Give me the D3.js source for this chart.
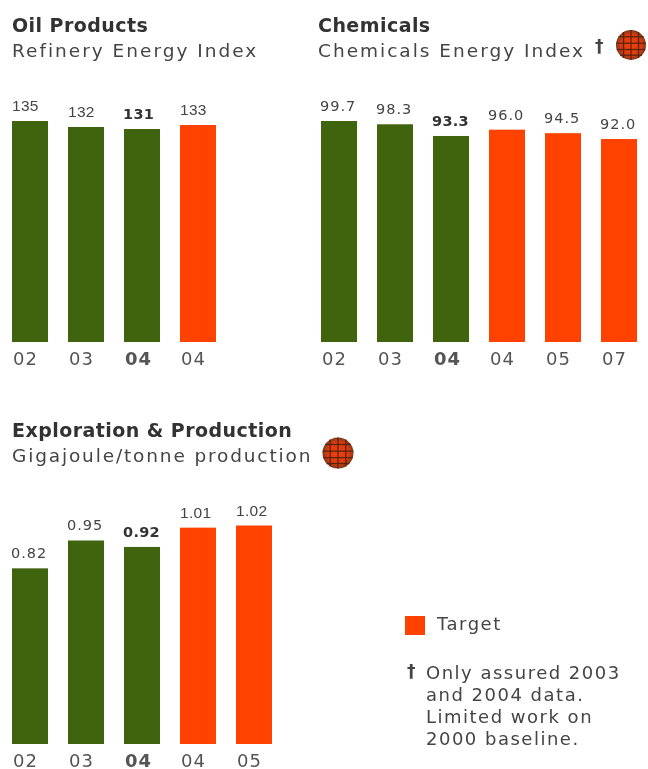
<!DOCTYPE html>
<html>
<head>
<meta charset="utf-8">
<script src="https://cdn.jsdelivr.net/npm/d3@7"></script>
<style>
  html, body { margin: 0; padding: 0; background: #fff; }
  svg { display: block; }
  text { font-family: "DejaVu Sans", Verdana, sans-serif; fill: #444; }
  .title { font-size: 19px; font-weight: bold; letter-spacing: 0.45px; fill: #333; }
  .sub { font-size: 18.5px; letter-spacing: 2px; fill: #444; }
  .sub.tight { letter-spacing: 1.85px; }
  .val { font-size: 14.5px; letter-spacing: 1px; }
  .val.now { font-weight: bold; letter-spacing: 0.3px; fill: #333; }
  .val.narrow { font-family: "Liberation Sans", Arial, sans-serif; font-size: 15.5px; letter-spacing: 0.3px; }
  .tick text { font-size: 18px; letter-spacing: 1px; fill: #555; }
  .note { font-size: 18px; letter-spacing: 1.5px; fill: #444; }
  .dagger { font-size: 17px; font-weight: bold; letter-spacing: 0; fill: #444; }
</style>
</head>
<body>
<svg id="chart" width="648" height="769"></svg>
<script>
var green = '#41630f', orange = '#ff4206';

// 'a' actual, 'n' the bold current year, 't' target
var oilYears = ['02', '03', '04', '04'];
var oilValues = [135, 132, 131, 133];
var oilLabels = ['135', '132', '131', '133'];
var oilKinds = ['a', 'a', 'n', 't'];

var chemYears = ['02', '03', '04', '04', '05', '07'];
var chemValues = [99.7, 98.3, 93.3, 96.0, 94.5, 92.0];
var chemLabels = ['99.7', '98.3', '93.3', '96.0', '94.5', '92.0'];
var chemKinds = ['a', 'a', 'n', 't', 't', 't'];

var epYears = ['02', '03', '04', '04', '05'];
var epValues = [0.82, 0.95, 0.92, 1.01, 1.02];
var epLabels = ['0.82', '0.95', '0.92', '1.01', '1.02'];
var epKinds = ['a', 'a', 'n', 't', 't'];

var noteLines = ['Only assured 2003', 'and 2004 data.', 'Limited work on', '2000 baseline.'];

var svg = d3.select('#chart');

// the source is a slightly soft upscaled image
var defs = svg.append('defs');
defs.append('filter').attr('id', 'soft')
    .append('feGaussianBlur').attr('stdDeviation', 0.45);
var grad = defs.append('radialGradient').attr('id', 'globe-fill');
grad.append('stop').attr('offset', '0%').attr('stop-color', '#f0420a');
grad.append('stop').attr('offset', '72%').attr('stop-color', '#dc3a08');
grad.append('stop').attr('offset', '100%').attr('stop-color', '#7a3a24');

var root = svg.append('g').attr('filter', 'url(#soft)');

function is_narrow(opt, i)
{
  return opt.kinds[i] != 'n' && opt.narrow.indexOf(i) >= 0;
}

function val_class(opt, i)
{
  var cls = 'val';
  if (opt.kinds[i] == 'n') cls += ' now';
  else if (is_narrow(opt, i)) cls += ' narrow';
  return cls;
}

function draw_panel(opt)
{
  var n = opt.years.length;
  var g = root.append('g');

  var x = d3.scaleBand()
            .domain(d3.range(n))
            .range([opt.left, opt.left + 56 * n - 20])
            .paddingInner(20 / 56)
            .paddingOuter(0);
  var y = d3.scaleLinear().domain(opt.domain).range([opt.bottom, opt.top]);

  g.selectAll('rect')
   .data(opt.values)
   .enter()
   .append('rect')
   .attr('x', (d, i) => x(i))
   .attr('y', d => y(d))
   .attr('width', x.bandwidth())
   .attr('height', d => opt.bottom - y(d))
   .attr('fill', (d, i) => opt.kinds[i] == 't' ? orange : green);

  g.selectAll('text.val')
   .data(opt.values)
   .enter()
   .append('text')
   .attr('class', (d, i) => val_class(opt, i))
   .attr('x', (d, i) => is_narrow(opt, i) ? x(i) : x(i) - 1)
   .attr('y', d => y(d) - 10)
   .text((d, i) => opt.labels[i]);

  var axis = g.append('g')
              .attr('transform', 'translate(0,' + opt.bottom + ')')
              .call(d3.axisBottom(x).tickSize(0).tickPadding(0).tickFormat(i => opt.years[i]));
  axis.select('.domain').remove();
  axis.selectAll('text')
      .attr('text-anchor', 'start')
      .attr('dy', null)
      .attr('x', -x.bandwidth() / 2 + 1)
      .attr('y', 23)
      .style('font-weight', i => opt.kinds[i] == 'n' ? 'bold' : null);

  g.append('text').attr('class', 'title').attr('x', opt.titleX).attr('y', opt.titleY).text(opt.title);
  g.append('text').attr('class', opt.subClass).attr('x', opt.titleX).attr('y', opt.titleY + 25).text(opt.sub);
}

function draw_globe(cx, cy, r)
{
  var g = root.append('g').attr('transform', 'translate(' + cx + ',' + cy + ')');
  g.append('circle').attr('r', r).attr('fill', 'url(#globe-fill)');
  var lines = [-0.55, -0.12, 0.3, 0.68];
  lines.forEach(t => {
    var h = r * Math.sqrt(1 - t * t);
    g.append('line').attr('x1', -h).attr('x2', h).attr('y1', t * r).attr('y2', t * r)
     .attr('stroke', '#5c2410').attr('stroke-width', 1.3);
  });
  [-0.5, 0, 0.5].forEach(t => {
    var h = r * Math.sqrt(1 - t * t);
    g.append('line').attr('y1', -h).attr('y2', h).attr('x1', t * r).attr('x2', t * r)
     .attr('stroke', '#5c2410').attr('stroke-width', 1.3);
  });
}

draw_panel({title: 'Oil Products', sub: 'Refinery Energy Index', subClass: 'sub', titleX: 12, titleY: 32, left: 12,
            years: oilYears, values: oilValues, labels: oilLabels, kinds: oilKinds, narrow: [0, 1, 3],
            domain: [24.5, 135], top: 121, bottom: 342});
draw_panel({title: 'Chemicals', sub: 'Chemicals Energy Index', subClass: 'sub', titleX: 318, titleY: 32, left: 321,
            years: chemYears, values: chemValues, labels: chemLabels, kinds: chemKinds, narrow: [],
            domain: [5.3, 99.7], top: 121, bottom: 342});
draw_panel({title: 'Exploration & Production', sub: 'Gigajoule/tonne production', subClass: 'sub tight', titleX: 12, titleY: 437, left: 12,
            years: epYears, values: epValues, labels: epLabels, kinds: epKinds, narrow: [3, 4],
            domain: [0, 1.02], top: 525.5, bottom: 744});

root.append('text').attr('class', 'dagger').attr('x', 595).attr('y', 52).text('†');
draw_globe(631, 45, 15);
draw_globe(338, 453, 15.5);

// legend and footnote
root.append('rect').attr('x', 405).attr('y', 616).attr('width', 20).attr('height', 19).attr('fill', orange);
root.append('text').attr('class', 'note').attr('x', 437).attr('y', 630).text('Target');
root.append('text').attr('class', 'dagger').attr('x', 407).attr('y', 677).text('†');
root.selectAll('text.line')
   .data(noteLines)
   .enter()
   .append('text')
   .attr('class', 'note line')
   .attr('x', 426)
   .attr('y', (d, i) => 679 + i * 22)
   .text(d => d);
</script>
</body>
</html>
